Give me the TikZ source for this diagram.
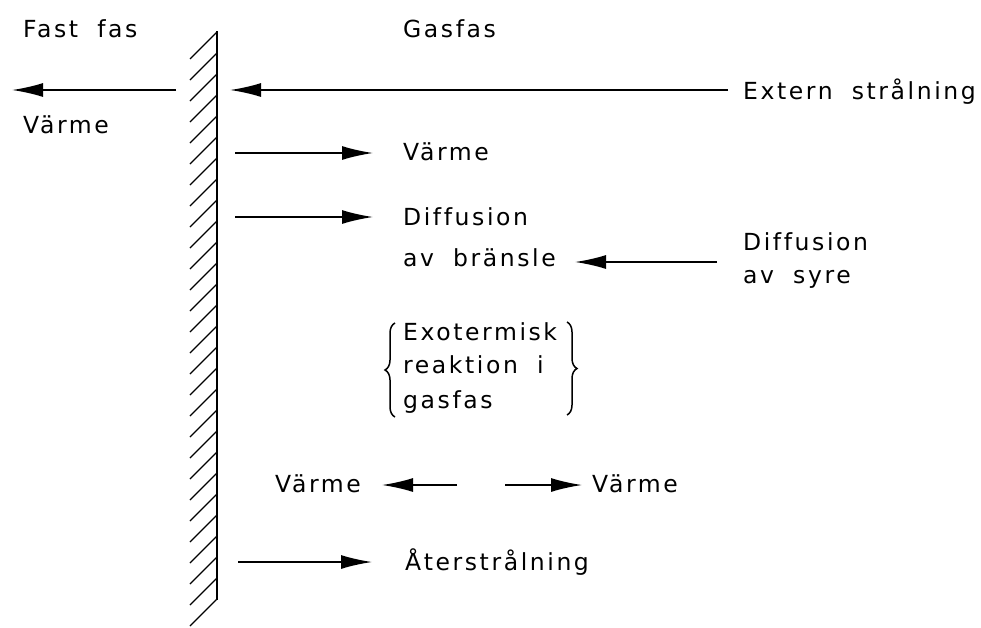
\documentclass[tikz,border=0pt]{standalone}
\usepackage{fontspec}
\setmainfont{DejaVu Sans}[LetterSpace=11,WordSpace=1.9,Ligatures={NoCommon}]
\usetikzlibrary{arrows.meta,decorations.pathreplacing}
\begin{document}
\begin{tikzpicture}[x=1pt,y=-1pt,
  lbl/.style={anchor=base west,inner sep=0pt,font=\fontsize{23.5}{27}\selectfont},
  arr/.style={line width=1.7pt,-{Latex[length=31pt,width=14pt]}},
  hatch/.style={line width=1.1pt},
  wallline/.style={line width=2.2pt},
  bracestyle/.style={line width=1.5pt,decorate,decoration={brace,amplitude=10pt}}]
\useasboundingbox (0,0) rectangle (981,627);

% wall with hatching
\coordinate (wt) at (217,31);
\coordinate (wb) at (217,600);
\draw[wallline] (wt) -- (wb);
\begin{scope}
\clip (150,0) rectangle (230,627);
\foreach \i in {0,...,27} \draw[hatch] (217,32+21*\i) -- ++(-27,27);
\end{scope}

% texts
\node[lbl] (fast) at (23,37) {Fast fas};
\node[lbl] (gas) at (403,37) {Gasfas};
\node[lbl] (varmeL) at (23,133) {Värme};
\node[lbl] (extern) at (743,99) {Extern strålning};
\node[lbl] (varme1) at (403,160) {Värme};
\node[lbl] (diff1) at (403,225) {Diffusion};
\node[lbl] (avb) at (403,266) {av bränsle};
\node[lbl] (diff2) at (743,250) {Diffusion};
\node[lbl] (avs) at (743,283) {av syre};
\node[lbl] (exo) at (403,340) {Exotermisk};
\node[lbl] (reak) at (403,373) {reaktion i};
\node[lbl] (gf) at (403,408) {gasfas};
\node[lbl] (varme2) at (275,492) {Värme};
\node[lbl] (varme3) at (592,492) {Värme};
\node[lbl] (ater) at (405,570) {Återstrålning};

% arrow end points
\coordinate (a1s) at (176,90);  \coordinate (a1e) at (12,90);
\coordinate (a2s) at (728,90);  \coordinate (a2e) at (230,90);
\coordinate (a3s) at (235,153); \coordinate (a3e) at (373,153);
\coordinate (a4s) at (235,217); \coordinate (a4e) at (373,217);
\coordinate (a5s) at (717,262); \coordinate (a5e) at (575,262);
\coordinate (a6s) at (457,485); \coordinate (a6e) at (382,485);
\coordinate (a7s) at (505,485); \coordinate (a7e) at (582,485);
\coordinate (a8s) at (238,562); \coordinate (a8e) at (372,562);

\draw[arr] (a1s) -- (a1e);
\draw[arr] (a2s) -- (a2e);
\draw[arr] (a3s) -- (a3e);
\draw[arr] (a4s) -- (a4e);
\draw[arr] (a5s) -- (a5e);
\draw[arr] (a6s) -- (a6e);
\draw[arr] (a7s) -- (a7e);
\draw[arr] (a8s) -- (a8e);

% braces
\coordinate (lbB) at (395,417); \coordinate (lbT) at (395,323);
\coordinate (rbT) at (567,322); \coordinate (rbB) at (567,415);
\draw[bracestyle] (lbB) -- (lbT);
\draw[bracestyle] (rbT) -- (rbB);
\end{tikzpicture}
\end{document}
